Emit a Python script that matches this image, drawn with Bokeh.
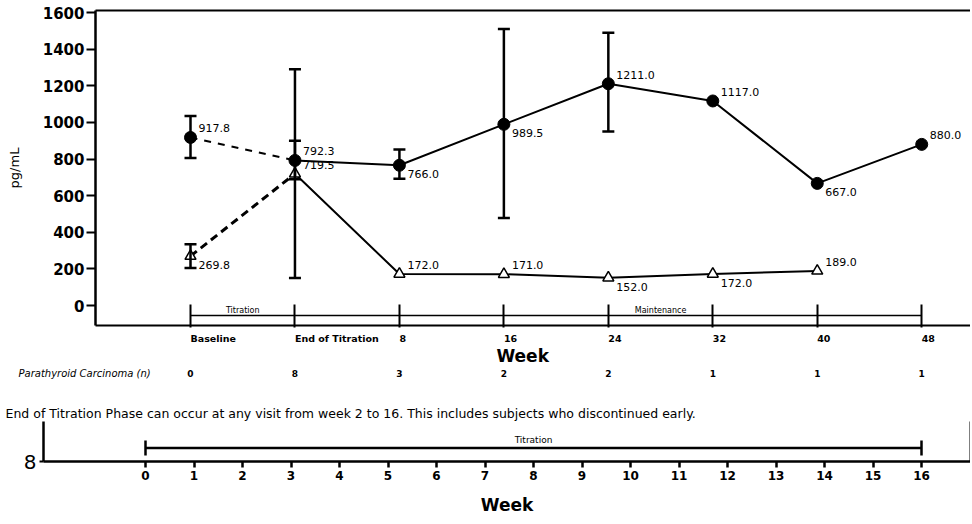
from bokeh.plotting import figure
from bokeh.models import (ColumnDataSource, Whisker, TeeHead, FixedTicker, LinearAxis, Range1d)
from bokeh.core.properties import value
from bokeh.embed import file_html
from bokeh.resources import INLINE

# ---------------- data ----------------
visits = ["Baseline", "End of Titration", "8", "16", "24", "32", "40", "48"]
n_carcinoma = ["0", "8", "3", "2", "2", "1", "1", "1"]

mean_a = [917.8, 792.3, 766.0, 989.5, 1211.0, 1117.0, 667.0, 880.0]
err_a_low = [805, 690, 692, 478, 950]
err_a_high = [1035, 900, 852, 1510, 1490]

mean_b = [269.8, 719.5, 172.0, 171.0, 152.0, 172.0, 189.0]
err_b_low = [205, 150]
err_b_high = [335, 1290]

label_side_a = ["up", "up", "down", "down", "up", "up", "down", "up"]
label_side_b = ["down", "up", "up", "up", "down", "down", "up"]

phases = ["Titration", "Maintenance"]
phase_start = [0, 4]
phase_end = [1, 5]

y_ticks = [0, 200, 400, 600, 800, 1000, 1200, 1400, 1600]

titration_weeks = list(range(0, 17))
titration_span = [0, 16]
footnote = ("End of Titration Phase can occur at any visit from week 2 to 16. "
            "This includes subjects who discontinued early.")

FONT_NAME = "DejaVu Sans"
FONT = value(FONT_NAME)

# ---------------- top figure ----------------
W = 970
LEFT = 95
FT, FB = 10, 8
FRAME_H = 315
H1 = FT + FRAME_H + FB
Y0, Y1 = -109, 1611
PX_PER_X = 104.46
X0 = (LEFT - 190) / PX_PER_X
X1 = (W - 190) / PX_PER_X

p = figure(width=W, height=H1, x_range=(X0, X1), y_range=(Y0, Y1),
           output_backend="svg", toolbar_location=None,
           min_border_left=LEFT, min_border_right=0,
           min_border_top=FT, min_border_bottom=FB)
p.outline_line_color = None
p.grid.visible = False

xi = list(range(len(visits)))

ya = p.yaxis[0]
ya.ticker = FixedTicker(ticks=y_ticks)
ya.major_label_text_font = FONT_NAME
ya.major_label_text_font_size = "15px"
ya.major_label_text_font_style = "bold"
ya.major_label_text_color = "black"
ya.major_tick_out = 9
ya.major_tick_in = 0
ya.minor_tick_out = 0
ya.minor_tick_in = 0
ya.major_tick_line_width = 2
ya.axis_line_width = 2.5
ya.major_label_standoff = 2
ya.axis_label = "pg/mL"
ya.axis_label_text_font = FONT_NAME
ya.axis_label_text_font_size = "13px"
ya.axis_label_text_font_style = "normal"
ya.axis_label_text_color = "black"
ya.axis_label_standoff = 18

xa = p.xaxis[0]
xa.ticker = FixedTicker(ticks=xi)
xa.major_label_overrides = {i: "" for i in xi}
xa.major_label_text_font_size = "0px"
xa.major_label_standoff = 0
xa.major_tick_in = 21
xa.major_tick_out = 2
xa.major_tick_line_width = 2
xa.minor_tick_in = 0
xa.minor_tick_out = 0
xa.axis_line_width = 2

top_axis = LinearAxis(ticker=FixedTicker(ticks=[]), major_tick_in=0, major_tick_out=0,
                      minor_tick_in=0, minor_tick_out=0, major_label_standoff=0,
                      major_label_text_font_size="0px", axis_line_width=2)
p.add_layout(top_axis, "above")

# phase timeline
bracket_y = -55
p.segment(x0=[xi[0]], x1=[xi[-1]], y0=[bracket_y], y1=[bracket_y],
          line_color="black", line_width=1.5)
phase_src = ColumnDataSource(dict(
    x=[(s + e) / 2 for s, e in zip(phase_start, phase_end)],
    y=[bracket_y] * len(phases), text=phases))
p.text(x="x", y="y", text="text", source=phase_src, text_font=FONT,
       text_font_size="8px", text_align="center", text_baseline="bottom",
       y_offset=-1, text_color="black")

# series lines
p.line(xi[:2], mean_a[:2], line_color="black", line_width=2, line_dash="7 7")
p.line(xi[1:], mean_a[1:], line_color="black", line_width=2)
xb = xi[:len(mean_b)]
p.line(xb[:2], mean_b[:2], line_color="black", line_width=3, line_dash="8 5")
p.line(xb[1:], mean_b[1:], line_color="black", line_width=2)

# error bars
ea = ColumnDataSource(dict(x=xi[:len(err_a_low)], lo=err_a_low, hi=err_a_high))
eb = ColumnDataSource(dict(x=xi[:len(err_b_low)], lo=err_b_low, hi=err_b_high))
for src in (ea, eb):
    p.add_layout(Whisker(source=src, base="x", lower="lo", upper="hi",
                         line_color="black", line_width=2.5, level="glyph",
                         upper_head=TeeHead(size=12, line_width=2.5, line_color="black"),
                         lower_head=TeeHead(size=12, line_width=2.5, line_color="black")))

# markers
p.scatter(xi, mean_a, marker="circle", size=12, fill_color="black", line_color="black")
p.scatter(xb, mean_b, marker="triangle", size=11, fill_color="white",
          line_color="black", line_width=1.5)


def lab_src(xs, ys, sides):
    return ColumnDataSource(dict(
        x=xs, y=ys, text=[f"{v:.1f}" for v in ys],
        yo=[-9 if s == "up" else 9 for s in sides]))


for src in (lab_src(xi, mean_a, label_side_a), lab_src(xb, mean_b, label_side_b)):
    p.text(x="x", y="y", text="text", source=src, x_offset=8, y_offset="yo",
           text_font=FONT, text_font_size="11px", text_align="left",
           text_baseline="middle", text_color="black")

# ---------------- middle strip (visit labels, counts, footnote) ----------------
HM = 88
MX0 = -190 / PX_PER_X
m = figure(width=W, height=HM,
           x_range=Range1d(MX0, X1), y_range=Range1d(HM, 0),
           output_backend="svg", toolbar_location=None,
           min_border_left=0, min_border_right=0, min_border_top=0, min_border_bottom=0)
m.axis.visible = False
m.grid.visible = False
m.outline_line_color = None

ROW_VISIT, ROW_WEEK, ROW_COUNT, ROW_NOTE = 5, 22, 40, 80
m.text(x=xi, y=[ROW_VISIT] * len(xi), text=visits, text_font=FONT, text_font_size="9.5px",
       text_font_style="bold", text_align="left", text_baseline="middle",
       text_color="black")
m.text(x=[(xi[0] + xi[-1]) / 2 - 0.32], y=[ROW_WEEK], text=["Week"], text_font=FONT,
       text_font_size="17px", text_font_style="bold", text_align="center",
       text_baseline="middle", text_color="black")
m.text(x=xi, y=[ROW_COUNT] * len(xi), text=n_carcinoma, text_font=FONT,
       text_font_size="9px", text_font_style="bold", text_align="center",
       text_baseline="middle", text_color="black")
m.text(x=[MX0], y=[ROW_COUNT], text=["Parathyroid Carcinoma (n)"],
       x_offset=18, text_font=FONT, text_font_size="10px", text_font_style="italic",
       text_align="left", text_baseline="middle", text_color="black")
m.text(x=[MX0], y=[ROW_NOTE], text=[footnote], x_offset=5,
       text_font=FONT, text_font_size="12.5px", text_align="left",
       text_baseline="middle", text_color="black")

# ---------------- bottom figure ----------------
H2 = 524 - H1 - HM
QLEFT = 43
q = figure(width=W, height=H2,
           x_range=((QLEFT - 145) / 48.5, (W - 145) / 48.5), y_range=(0, 1),
           output_backend="svg", toolbar_location=None,
           min_border_left=QLEFT, min_border_right=0,
           min_border_top=0, min_border_bottom=H2 - 40)
q.outline_line_color = None
q.grid.visible = False

qx = q.xaxis[0]
qx.ticker = FixedTicker(ticks=titration_weeks)
qx.major_label_text_font = FONT_NAME
qx.major_label_text_font_size = "12px"
qx.major_label_text_font_style = "bold"
qx.major_label_text_color = "black"
qx.major_tick_out = 6
qx.major_tick_in = 0
qx.minor_tick_in = 0
qx.minor_tick_out = 0
qx.major_tick_line_width = 2.5
qx.axis_line_width = 2.5
qx.major_label_standoff = 3
qx.axis_label = "Week"
qx.axis_label_text_font = FONT_NAME
qx.axis_label_text_font_size = "17px"
qx.axis_label_text_font_style = "bold"
qx.axis_label_text_color = "black"
qx.axis_label_standoff = 12

qy = q.yaxis[0]
qy.ticker = FixedTicker(ticks=[0])
qy.major_label_overrides = {0: "8"}
qy.major_label_text_font = FONT_NAME
qy.major_label_text_font_size = "20px"
qy.major_label_text_color = "black"
qy.major_tick_out = 4
qy.major_tick_in = 0
qy.minor_tick_in = 0
qy.minor_tick_out = 0
qy.major_tick_line_width = 2
qy.axis_line_width = 2.5
qy.major_label_standoff = 3

right_axis = LinearAxis(ticker=FixedTicker(ticks=[]), major_tick_in=0, major_tick_out=0,
                        minor_tick_in=0, minor_tick_out=0, major_label_standoff=0,
                        major_label_text_font_size="0px", axis_line_width=2)
q.add_layout(right_axis, "right")

bar_y = 0.34
span_src = ColumnDataSource(dict(y=[bar_y], lo=[titration_span[0]], hi=[titration_span[1]]))
q.add_layout(Whisker(source=span_src, base="y", lower="lo", upper="hi", dimension="width",
                     line_color="black", line_width=2.5, level="glyph",
                     upper_head=TeeHead(size=15, line_width=2.5, line_color="black"),
                     lower_head=TeeHead(size=15, line_width=2.5, line_color="black")))
q.text(x=[sum(titration_span) / 2], y=[bar_y], text=["Titration"], text_font=FONT,
       text_font_size="9px", text_align="center", text_baseline="bottom",
       y_offset=-3, text_color="black")

open("out.html", "w").write(file_html([p, m, q], INLINE))
